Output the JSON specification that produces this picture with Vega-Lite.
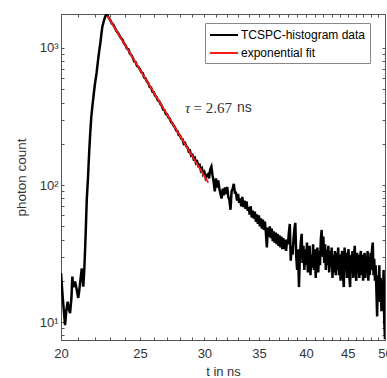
{
  "$schema": "https://vega.github.io/schema/vega-lite/v6.json",
  "width": 324,
  "height": 326,
  "autosize": {"type": "none"},
  "padding": {"left": 61, "top": 14, "right": 2, "bottom": 38},
  "background": "white",
  "config": {
    "view": {"stroke": "#555555", "strokeWidth": 1},
    "font": "Liberation Sans",
    "axis": {"labelFont": "Liberation Sans", "titleFont": "Liberation Sans", "labelColor": "#333333", "titleColor": "#333333", "tickColor": "#555555", "grid": false, "domain": false, "titleFontWeight": "normal"}
  },
  "datasets": {
    "hist": [
      {"t":20.0,"c":22.8},{"t":20.1,"c":15},{"t":20.23,"c":9.5},{"t":20.3,"c":12},{"t":20.38,"c":14.1},{"t":20.45,"c":12.5},{"t":20.52,"c":11.6},{"t":20.6,"c":15},{"t":20.65,"c":21.5},{"t":20.72,"c":18},{"t":20.81,"c":19.8},{"t":20.91,"c":17.3},{"t":21.0,"c":15},{"t":21.06,"c":17},{"t":21.11,"c":19.3},{"t":21.21,"c":24.6},{"t":21.3,"c":18.1},{"t":21.36,"c":24},{"t":21.41,"c":33.6},{"t":21.46,"c":50},{"t":21.51,"c":77.5},{"t":21.59,"c":115},{"t":21.66,"c":175},{"t":21.72,"c":235},{"t":21.79,"c":315},{"t":21.86,"c":380},{"t":21.93,"c":450},{"t":22.0,"c":530},{"t":22.05,"c":583},{"t":22.12,"c":660},{"t":22.2,"c":800},{"t":22.29,"c":966},{"t":22.36,"c":1100},{"t":22.42,"c":1260},{"t":22.48,"c":1430},{"t":22.55,"c":1540},{"t":22.62,"c":1640},{"t":22.69,"c":1722},{"t":22.76,"c":1760},
      {"t":22.8,"c":1740},{"t":22.9,"c":1650},{"t":23.0,"c":1590},{"t":23.1,"c":1510},{"t":23.2,"c":1470},{"t":23.3,"c":1400},{"t":23.4,"c":1330},{"t":23.5,"c":1290},{"t":23.6,"c":1230},{"t":23.7,"c":1180},{"t":23.8,"c":1150},{"t":23.9,"c":1080},
      {"t":24.0,"c":1050},{"t":24.1,"c":990},{"t":24.2,"c":980},{"t":24.3,"c":910},{"t":24.4,"c":890},{"t":24.5,"c":850},{"t":24.6,"c":800},{"t":24.7,"c":790},{"t":24.8,"c":740},{"t":24.9,"c":725},
      {"t":25.0,"c":700},{"t":25.1,"c":665},{"t":25.2,"c":655},{"t":25.3,"c":610},{"t":25.4,"c":600},{"t":25.5,"c":570},{"t":25.6,"c":555},{"t":25.7,"c":520},{"t":25.8,"c":515},{"t":25.9,"c":480},
      {"t":26.0,"c":475},{"t":26.1,"c":450},{"t":26.2,"c":440},{"t":26.3,"c":415},{"t":26.4,"c":410},{"t":26.5,"c":390},{"t":26.6,"c":378},{"t":26.7,"c":355},{"t":26.8,"c":352},{"t":26.9,"c":330},
      {"t":27.0,"c":328},{"t":27.1,"c":312},{"t":27.2,"c":305},{"t":27.3,"c":288},{"t":27.4,"c":283},{"t":27.5,"c":272},{"t":27.6,"c":264},{"t":27.7,"c":250},{"t":27.8,"c":247},{"t":27.9,"c":232},
      {"t":28.0,"c":230},{"t":28.1,"c":218},{"t":28.2,"c":216},{"t":28.3,"c":200},{"t":28.4,"c":203},{"t":28.5,"c":192},{"t":28.6,"c":188},{"t":28.7,"c":176},{"t":28.8,"c":178},{"t":28.9,"c":164},
      {"t":29.0,"c":166},{"t":29.1,"c":155},{"t":29.2,"c":158},{"t":29.3,"c":145},{"t":29.4,"c":148},{"t":29.5,"c":138},{"t":29.6,"c":140},{"t":29.7,"c":128},{"t":29.8,"c":132},{"t":29.9,"c":120},
      {"t":30.0,"c":124},{"t":30.1,"c":113},{"t":30.2,"c":118},{"t":30.3,"c":120},{"t":30.4,"c":112},{"t":30.5,"c":130},{"t":30.6,"c":136},{"t":30.7,"c":118},{"t":30.8,"c":105},{"t":30.9,"c":90},
      {"t":31.0,"c":112},{"t":31.1,"c":96},{"t":31.2,"c":108},{"t":31.3,"c":94},{"t":31.4,"c":86},{"t":31.5,"c":80},{"t":31.6,"c":94},{"t":31.7,"c":84},{"t":31.8,"c":96},{"t":31.9,"c":86},
      {"t":32.0,"c":97},{"t":32.1,"c":82},{"t":32.2,"c":78},{"t":32.3,"c":66},{"t":32.4,"c":90},{"t":32.5,"c":94},{"t":32.6,"c":102},{"t":32.7,"c":88},{"t":32.8,"c":88},{"t":32.9,"c":77},
      {"t":33.0,"c":86},{"t":33.1,"c":74},{"t":33.2,"c":80},{"t":33.3,"c":70},{"t":33.4,"c":82},{"t":33.5,"c":69},{"t":33.6,"c":77},{"t":33.7,"c":67},{"t":33.8,"c":76},{"t":33.9,"c":65},
      {"t":34.0,"c":69},{"t":34.1,"c":61},{"t":34.2,"c":70},{"t":34.3,"c":58},{"t":34.4,"c":65},{"t":34.5,"c":57},{"t":34.6,"c":64},{"t":34.7,"c":54},{"t":34.8,"c":61},{"t":34.9,"c":52},
      {"t":35.0,"c":60},{"t":35.1,"c":50},{"t":35.2,"c":57},{"t":35.3,"c":48},{"t":35.4,"c":56},{"t":35.5,"c":47},{"t":35.6,"c":54},{"t":35.7,"c":45},{"t":35.8,"c":35},{"t":35.9,"c":49},
      {"t":36.0,"c":42},{"t":36.1,"c":50},{"t":36.2,"c":41},{"t":36.3,"c":48},{"t":36.4,"c":39},{"t":36.5,"c":46},{"t":36.6,"c":38},{"t":36.7,"c":45},{"t":36.8,"c":37},{"t":36.9,"c":44},
      {"t":37.0,"c":36},{"t":37.1,"c":43},{"t":37.2,"c":35},{"t":37.3,"c":42},{"t":37.4,"c":34},{"t":37.5,"c":41},{"t":37.6,"c":34},{"t":37.7,"c":40},{"t":37.8,"c":33},{"t":37.9,"c":40},
      {"t":38.0,"c":37},{"t":38.1,"c":45},{"t":38.2,"c":52},{"t":38.3,"c":28},{"t":38.4,"c":36},{"t":38.5,"c":31},{"t":38.6,"c":40},{"t":38.7,"c":48},{"t":38.8,"c":53},{"t":38.9,"c":30},
      {"t":39.0,"c":24},{"t":39.1,"c":34},{"t":39.2,"c":18},{"t":39.3,"c":30},{"t":39.4,"c":38},{"t":39.5,"c":44},{"t":39.6,"c":27},{"t":39.7,"c":36},{"t":39.8,"c":24},{"t":39.9,"c":34},
      {"t":40.0,"c":26},{"t":40.1,"c":38},{"t":40.2,"c":23},{"t":40.3,"c":32},{"t":40.4,"c":36},{"t":40.5,"c":22},{"t":40.6,"c":31},{"t":40.7,"c":25},{"t":40.8,"c":37},{"t":40.9,"c":24},
      {"t":41.0,"c":34},{"t":41.1,"c":21},{"t":41.2,"c":30},{"t":41.3,"c":35},{"t":41.4,"c":23},{"t":41.5,"c":33},{"t":41.6,"c":26},{"t":41.7,"c":40},{"t":41.8,"c":47},{"t":41.9,"c":30},
      {"t":42.0,"c":42},{"t":42.1,"c":27},{"t":42.2,"c":37},{"t":42.3,"c":24},{"t":42.4,"c":34},{"t":42.5,"c":26},{"t":42.6,"c":36},{"t":42.7,"c":23},{"t":42.8,"c":33},{"t":42.9,"c":25},
      {"t":43.0,"c":35},{"t":43.1,"c":21},{"t":43.2,"c":31},{"t":43.3,"c":23},{"t":43.4,"c":33},{"t":43.5,"c":22},{"t":43.6,"c":32},{"t":43.7,"c":24},{"t":43.8,"c":35},{"t":43.9,"c":22},
      {"t":44.0,"c":31},{"t":44.1,"c":20},{"t":44.2,"c":30},{"t":44.3,"c":33},{"t":44.4,"c":22},{"t":44.5,"c":18},{"t":44.6,"c":35},{"t":44.7,"c":25},{"t":44.8,"c":32},{"t":44.9,"c":21},
      {"t":45.0,"c":30},{"t":45.1,"c":34},{"t":45.2,"c":22},{"t":45.3,"c":18},{"t":45.4,"c":31},{"t":45.5,"c":23},{"t":45.6,"c":33},{"t":45.7,"c":21},{"t":45.8,"c":30},{"t":45.9,"c":36},
      {"t":46.0,"c":24},{"t":46.1,"c":20},{"t":46.2,"c":32},{"t":46.3,"c":23},{"t":46.4,"c":31},{"t":46.5,"c":21},{"t":46.6,"c":30},{"t":46.7,"c":33},{"t":46.8,"c":22},{"t":46.9,"c":31},
      {"t":47.0,"c":20},{"t":47.1,"c":29},{"t":47.2,"c":32},{"t":47.3,"c":21},{"t":47.4,"c":30},{"t":47.5,"c":23},{"t":47.6,"c":33},{"t":47.7,"c":20},{"t":47.8,"c":30},{"t":47.9,"c":22},
      {"t":48.0,"c":32},{"t":48.1,"c":24},{"t":48.2,"c":34},{"t":48.3,"c":38},{"t":48.4,"c":22},{"t":48.5,"c":29},{"t":48.6,"c":20},{"t":48.7,"c":26},{"t":48.8,"c":17},{"t":48.9,"c":11},
      {"t":49.0,"c":22},{"t":49.1,"c":15},{"t":49.2,"c":26},{"t":49.3,"c":14},{"t":49.4,"c":21},{"t":49.5,"c":12},{"t":49.6,"c":19},{"t":49.7,"c":12},{"t":49.8,"c":24},{"t":49.9,"c":10},
      {"t":50.0,"c":7.5}
    ],
    "fit": [{"t":22.8,"c":1722},{"t":30.34,"c":104}],
    "tau": [{"t":28.4,"c":365,"label":"τ"}],
    "note": [{"t":29.1,"c":365,"label":"= 2.67"}],
    "unit": [{"t":32.9,"c":365,"label":"ns"}]
  },
  "layer": [
    {
      "data": {"name": "hist"},
      "mark": {"type": "line", "strokeWidth": 2.5, "clip": true},
      "encoding": {
        "x": {"field": "t", "type": "quantitative", "scale": {"type": "log", "domain": [20, 50], "nice": false},
          "axis": {"orient": "bottom", "title": "t in ns", "titleFontSize": 13, "titlePadding": 5, "labelFontSize": 13, "labelPadding": 10,
            "values": [20,21,22,23,24,25,26,27,28,29,30,31,32,33,34,35,36,37,38,39,40,41,42,43,44,45,46,47,48,49,50],
            "labelExpr": "datum.value % 5 == 0 ? format(datum.value, 'd') : ''", "tickSize": -3, "labelFlush": false, "labelOverlap": false}},
        "y": {"field": "c", "type": "quantitative", "scale": {"type": "log", "domain": [7.4, 1770], "nice": false},
          "axis": {"orient": "left", "title": "photon count", "titleFontSize": 13.5, "titlePadding": 11, "labelFontSize": 13, "labelPadding": 6,
            "values": [8,9,10,20,30,40,50,60,70,80,90,100,200,300,400,500,600,700,800,900,1000],
            "labelExpr": "datum.value == 10 ? '10¹' : datum.value == 100 ? '10²' : datum.value == 1000 ? '10³' : ''", "tickSize": -3, "labelOverlap": false}},
        "color": {"datum": "TCSPC-histogram data", "type": "nominal",
          "scale": {"domain": ["TCSPC-histogram data", "exponential fit"], "range": ["#000000", "#ff1a1a"]},
          "legend": {"orient": "none", "legendX": 144, "legendY": 9, "title": null, "symbolType": "M-2,0L2,0", "symbolSize": 196, "symbolStrokeWidth": 2,
            "symbolOffset": 7, "labelFont": "Liberation Sans", "labelFontSize": 12, "labelColor": "#000000", "fillColor": "white", "strokeColor": "#888888", "padding": 4, "rowPadding": 4, "labelOffset": 9}}
      }
    },
    {
      "data": {"name": "fit"},
      "mark": {"type": "line", "strokeWidth": 1.8},
      "encoding": {
        "x": {"field": "t", "type": "quantitative", "axis": {"orient": "top", "title": null, "labels": false, "tickSize": -3,
          "values": [20,21,22,23,24,25,26,27,28,29,30,31,32,33,34,35,36,37,38,39,40,41,42,43,44,45,46,47,48,49,50]}},
        "y": {"field": "c", "type": "quantitative", "axis": {"orient": "right", "title": null, "labels": false, "tickSize": -3,
          "values": [8,9,10,20,30,40,50,60,70,80,90,100,200,300,400,500,600,700,800,900,1000]}},
        "color": {"datum": "exponential fit", "type": "nominal"}
      }
    },
    {
      "data": {"name": "tau"},
      "mark": {"type": "text", "font": "Liberation Serif", "fontStyle": "italic", "fontSize": 15, "align": "left", "baseline": "middle", "color": "#333333"},
      "encoding": {
        "x": {"field": "t", "type": "quantitative", "axis": null},
        "y": {"field": "c", "type": "quantitative", "axis": null},
        "text": {"field": "label"}
      }
    },
    {
      "data": {"name": "note"},
      "mark": {"type": "text", "font": "Liberation Serif", "fontSize": 15, "align": "left", "baseline": "middle", "color": "#333333"},
      "encoding": {
        "x": {"field": "t", "type": "quantitative", "axis": null},
        "y": {"field": "c", "type": "quantitative", "axis": null},
        "text": {"field": "label"}
      }
    },
    {
      "data": {"name": "unit"},
      "mark": {"type": "text", "font": "Liberation Sans", "fontSize": 14, "align": "left", "baseline": "middle", "color": "#333333"},
      "encoding": {
        "x": {"field": "t", "type": "quantitative", "axis": null},
        "y": {"field": "c", "type": "quantitative", "axis": null},
        "text": {"field": "label"}
      }
    }
  ],
  "resolve": {"axis": {"x": "independent", "y": "independent"}}
}
